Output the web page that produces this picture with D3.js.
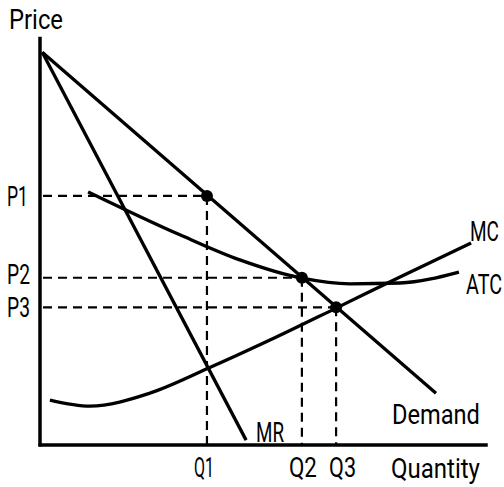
<!DOCTYPE html>
<html><head><meta charset="utf-8">
<script src="https://cdn.jsdelivr.net/npm/d3@7"></script>
<style>body{margin:0;background:#fff}svg{display:block}</style>
</head><body>
<script>
// data (quantity units, price units)
const demand = [[0.05, 9.7], [8.8, 1.28]];
const mr = [[0.05, 9.7], [4.58, 0.12]];
const mc = [[0.22,1.11],[1.11,0.96],[2.44,1.28],[3.71,1.88],[5.11,2.59],[6.58,3.38],[8.0,4.15],[9.58,4.99]];
const atc = [[1.07,6.25],[3.11,5.19],[4.44,4.57],[5.82,4.12],[6.89,3.98],[8.0,4.0],[9.31,4.27]];
const qLabels = ["Q1","Q2","Q3"];
const pLabels = ["P1","P2","P3"];
const qValues = [3.71, 5.82, 6.58];
const pValues = [6.15, 4.13, 3.40];
const curveNames = ["Demand","MR","MC","ATC"];
const axisTitles = ["Quantity","Price"];

const W=504,H=487;
const x=d3.scaleLinear().domain([0,10]).range([40,490]);
const y=d3.scaleLinear().domain([0,10]).range([445,40]);
const svg=d3.select("body").append("svg").attr("width",W).attr("height",H);
const font="Roboto, sans-serif";
function label(t,px,py,w,fs=28.5){
  const g=svg.append("g");
  const tx=g.append("text").attr("x",0).attr("y",0)
    .attr("font-family",font).attr("font-size",fs).attr("fill","#000").text(t);
  const nat=tx.node().getComputedTextLength()||w;
  g.attr("transform",`translate(${px},${py}) scale(${w/nat},1)`);
}
// dashed guides
qValues.forEach((q,i)=>{
  const p=pValues[i];
  svg.append("line").attr("x1",x(0)+3).attr("x2",x(q)).attr("y1",y(p)).attr("y2",y(p))
    .attr("stroke","#000").attr("stroke-width",2.2).attr("stroke-dasharray","9,6");
  svg.append("line").attr("x1",x(q)).attr("x2",x(q)).attr("y1",y(p)).attr("y2",y(0))
    .attr("stroke","#000").attr("stroke-width",2.2).attr("stroke-dasharray","9,6");
});
const line=d3.line().x(d=>x(d[0])).y(d=>y(d[1]));
const sline=d3.line().x(d=>x(d[0])).y(d=>y(d[1])).curve(d3.curveMonotoneX);
[demand,mr].forEach(d=>svg.append("path").attr("d",line(d)).attr("fill","none").attr("stroke","#000").attr("stroke-width",3.3));
[mc,atc].forEach(d=>svg.append("path").attr("d",sline(d)).attr("fill","none").attr("stroke","#000").attr("stroke-width",3.3));
// axes
svg.append("line").attr("x1",x(0)).attr("x2",x(0)).attr("y1",y(10.08)).attr("y2",y(0)+1.5).attr("stroke","#000").attr("stroke-width",3.5);
svg.append("line").attr("x1",x(0)-1.5).attr("x2",x(9.95)).attr("y1",y(0)).attr("y2",y(0)).attr("stroke","#000").attr("stroke-width",3.5);
// dots
qValues.forEach((q,i)=>svg.append("circle").attr("cx",x(q)).attr("cy",y(pValues[i])).attr("r",6).attr("fill","#000"));
// labels
label(axisTitles[1],9,29,54);
const pW=[21,23,23];
pLabels.forEach((t,i)=>label(t,7,[206,284,317][i],pW[i],27.5));
const qW=[20,28,27], qOff=[-13,-13,-7];
qLabels.forEach((t,i)=>label(t,x(qValues[i])+qOff[i],477,qW[i]));
label(axisTitles[0],391,478,89);
label(curveNames[0],392,424,88);
label(curveNames[1],256,442,28);
label(curveNames[2],470,241,29);
label(curveNames[3],466,294,36);
</script>
</body></html>
